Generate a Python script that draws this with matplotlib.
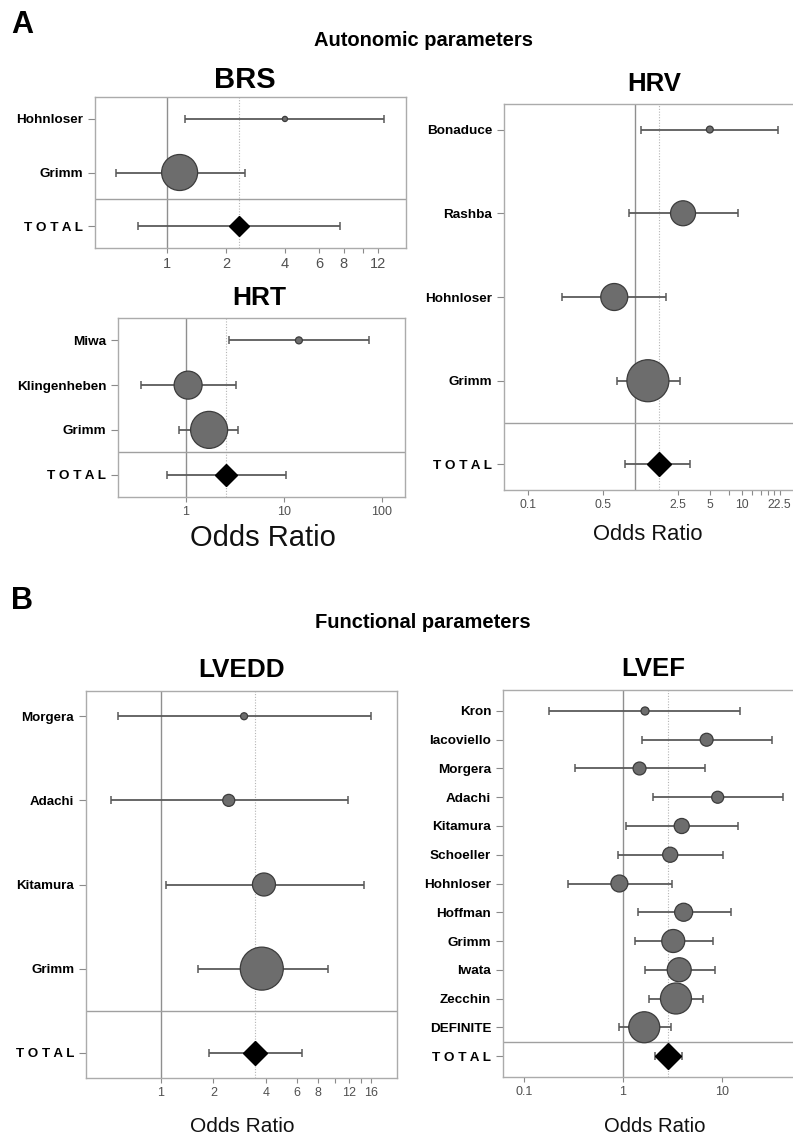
import numpy as np
import matplotlib.pyplot as plt
from matplotlib.ticker import FixedLocator, FixedFormatter, NullFormatter

plt.rcParams['font.family'] = ['Liberation Sans', 'DejaVu Sans']

W, H = 793, 1137  # figure size in pixels (dpi 100)

# ---------------- data (odds ratio, 95% CI, study weight %) ----------------
brs_study = ['Hohnloser', 'Grimm']
brs_or = [4.0, 1.16]
brs_lo = [1.24, 0.55]
brs_hi = [12.8, 2.5]
brs_wt = [2.0, 98.0]
brs_total = [2.33, 0.71, 7.6]

hrt_study = ['Miwa', 'Klingenheben', 'Grimm']
hrt_or = [14.2, 1.05, 1.72]
hrt_lo = [2.75, 0.35, 0.85]
hrt_hi = [73.9, 3.24, 3.4]
hrt_wt = [2.2, 35.6, 62.2]
hrt_total = [2.56, 0.64, 10.5]

hrv_study = ['Bonaduce', 'Rashba', 'Hohnloser', 'Grimm']
hrv_or = [5.0, 2.81, 0.64, 1.32]
hrv_lo = [1.14, 0.88, 0.21, 0.68]
hrv_hi = [21.7, 9.2, 1.95, 2.64]
hrv_wt = [1.5, 19.7, 23.0, 55.7]
hrv_total = [1.68, 0.81, 3.27]

lvedd_study = ['Morgera', 'Adachi', 'Kitamura', 'Grimm']
lvedd_or = [3.0, 2.45, 3.9, 3.79]
lvedd_lo = [0.57, 0.52, 1.07, 1.63]
lvedd_hi = [16.1, 11.8, 14.6, 9.07]
lvedd_wt = [1.9, 5.6, 20.6, 71.9]
lvedd_total = [3.46, 1.88, 6.43]

lvef_study = ['Kron', 'Iacoviello', 'Morgera', 'Adachi', 'Kitamura', 'Schoeller',
              'Hohnloser', 'Hoffman', 'Grimm', 'Iwata', 'Zecchin', 'DEFINITE']
lvef_or = [1.67, 7.0, 1.47, 9.05, 3.92, 3.0, 0.92, 4.1, 3.22, 3.7, 3.43, 1.64]
lvef_lo = [0.18, 1.56, 0.33, 2.0, 1.08, 0.9, 0.28, 1.41, 1.33, 1.67, 1.84, 0.92]
lvef_hi = [15.2, 32.0, 6.7, 41.0, 14.5, 10.2, 3.12, 12.2, 8.05, 8.5, 6.43, 3.03]
lvef_wt = [1.4, 3.6, 3.6, 3.1, 4.9, 4.9, 6.2, 7.0, 11.4, 12.4, 20.7, 20.7]
lvef_total = [2.85, 2.1, 3.94]

brs_ticks = [1, 2, 4, 6, 8, 12]
brs_minor = [10]
hrt_ticks = [1, 10, 100]
hrv_ticks = [0.1, 0.5, 2.5, 5, 10, 22.5]
hrv_minor = [7.5, 12.5, 15, 17.5, 20]
lvedd_ticks = [1, 2, 4, 6, 8, 12, 16]
lvedd_minor = [10, 14]
lvef_ticks = [0.1, 1, 10]


def px_rect(l, t, r, b):
    return [l / W, 1 - b / H, (r - l) / W, (b - t) / H]


def fx(x):
    return x / W


def fy(y):
    return 1 - y / H


def forest(ax, study, est, lo, hi, wt, total, xlim, ticks, minor, pad,
           max_d, dia_w, lab_fs, tick_fs):
    n = len(study)
    est = np.array(est)
    lo = np.array(lo)
    hi = np.array(hi)
    wt = np.array(wt)
    ys = np.arange(n)

    ax.set_xscale('log')
    ax.set_xlim(*xlim)
    ax.set_ylim(n + pad, -pad)

    ax.axvline(1, color='#8f8f8f', lw=1.0, zorder=1)
    ax.axvline(total[0], color='#b5b5b5', lw=0.8, ls=(0, (1, 1.5)), zorder=1)
    ax.axhline(n - 0.5, color='#a0a0a0', lw=1.0, zorder=1)

    ax.errorbar(est, ys, xerr=[est - lo, hi - est], fmt='none',
                ecolor='#5a5a5a', elinewidth=1.3, capsize=3, capthick=1.1,
                zorder=2)
    d = max_d * np.sqrt(wt / wt.max())
    ax.scatter(est, ys, s=(d * 0.72) ** 2, c='#6d6d6d', edgecolors='#3c3c3c',
               linewidths=0.9, zorder=3)

    t_est, t_lo, t_hi = total
    ax.errorbar([t_est], [n], xerr=[[t_est - t_lo], [t_hi - t_est]], fmt='none',
                ecolor='#5a5a5a', elinewidth=1.3, capsize=3, capthick=1.1,
                zorder=2)
    ax.plot([t_est], [n], marker='D', ms=dia_w * 0.72 / 1.414, color='black',
            zorder=4)

    ax.xaxis.set_major_locator(FixedLocator(ticks))
    ax.xaxis.set_major_formatter(FixedFormatter([f'{t:g}' for t in ticks]))
    ax.xaxis.set_minor_locator(FixedLocator(minor))
    ax.xaxis.set_minor_formatter(NullFormatter())
    ax.tick_params(axis='x', which='both', length=3.8, width=0.8,
                   color='#8a8a8a', labelcolor='#505050', labelsize=tick_fs,
                   pad=3)

    ax.set_yticks(list(ys) + [n])
    ax.set_yticklabels(study + ['T O T A L'], fontweight='bold',
                       fontsize=lab_fs)
    ax.tick_params(axis='y', length=5, width=0.8, color='#8a8a8a', pad=3.5)

    for s in ax.spines.values():
        s.set_color('#ababab')
        s.set_linewidth(1.0)


fig = plt.figure(figsize=(W / 100, H / 100), dpi=100)
fig.patch.set_facecolor('white')

# BRS
ax = fig.add_axes(px_rect(95, 97, 406, 248))
forest(ax, brs_study, brs_or, brs_lo, brs_hi, brs_wt, brs_total,
       (0.429, 16.6), brs_ticks, brs_minor, 0.41, 36, 20, 9.7, 10.5)

# HRT
ax = fig.add_axes(px_rect(118, 318, 405, 497))
forest(ax, hrt_study, hrt_or, hrt_lo, hrt_hi, hrt_wt, hrt_total,
       (0.202, 172), hrt_ticks, [], 0.5, 37, 22, 9.7, 9)

# HRV
ax = fig.add_axes(px_rect(504, 104, 800, 490))
forest(ax, hrv_study, hrv_or, hrv_lo, hrv_hi, hrv_wt, hrv_total,
       (0.0597, 34.8), hrv_ticks, hrv_minor, 0.305, 42, 24, 9.7, 8.8)

# LVEDD
ax = fig.add_axes(px_rect(86, 691, 397, 1078))
forest(ax, lvedd_study, lvedd_or, lvedd_lo, lvedd_hi, lvedd_wt, lvedd_total,
       (0.372, 22.6), lvedd_ticks, lvedd_minor, 0.30, 43, 23, 9.6, 9)

# LVEF
ax = fig.add_axes(px_rect(503, 690, 800, 1077))
forest(ax, lvef_study, lvef_or, lvef_lo, lvef_hi, lvef_wt, lvef_total,
       (0.0614, 61.4), lvef_ticks, [], 0.73, 31, 25, 9.7, 9)

# headings
fig.text(fx(11), fy(33), 'A', fontsize=22, fontweight='bold', va='baseline')
fig.text(fx(11), fy(609), 'B', fontsize=22, fontweight='bold', va='baseline')
fig.text(fx(424), fy(41), 'Autonomic parameters', fontsize=14.5,
         fontweight='bold', ha='center', va='center')
fig.text(fx(423), fy(622), 'Functional parameters', fontsize=14.5,
         fontweight='bold', ha='center', va='center')

titles = [('BRS', 245, 80, 21), ('HRT', 259, 298, 19), ('HRV', 654, 84, 18.5),
          ('LVEDD', 242, 670, 18.8), ('LVEF', 653, 669, 18.5)]
for t, x, y, fs in titles:
    fig.text(fx(x), fy(y), t, fontsize=fs, fontweight='bold', ha='center',
             va='center')

xlabels = [(263, 538, 21), (648, 534, 15.8), (242, 1126, 15),
           (655, 1126, 14.6)]
for x, y, fs in xlabels:
    fig.text(fx(x), fy(y), 'Odds Ratio', fontsize=fs, ha='center', va='center',
             color='#111111')

fig.savefig('out.png', dpi=100)
